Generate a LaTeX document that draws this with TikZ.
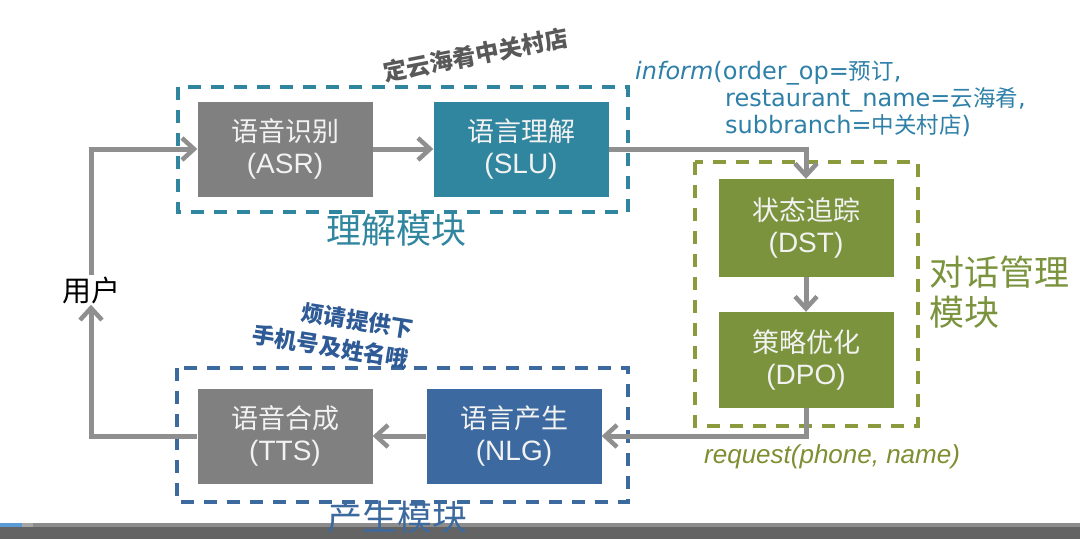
\documentclass[tikz,border=0pt]{standalone}
\usepackage{fontspec}
\setmainfont{Liberation Sans}
\newfontfamily\cjk{Noto Sans CJK SC}
\newfontfamily\infofont{DejaVu Sans}
\usetikzlibrary{arrows.meta}
\definecolor{tealc}{HTML}{31869F}
\definecolor{tealtext}{HTML}{2E80A8}
\definecolor{greyb}{HTML}{808080}
\definecolor{greenc}{HTML}{7A933C}
\definecolor{dmgreen}{HTML}{8A9A3C}
\definecolor{bluec}{HTML}{3C6AA0}
\definecolor{bluedash}{HTML}{3D6A9E}
\definecolor{arrowc}{HTML}{8F8F8F}
\definecolor{boxtext}{HTML}{F2F2F2}
\definecolor{olivetext}{HTML}{7E8F32}
\definecolor{notegray}{HTML}{595959}
\definecolor{noteblue}{HTML}{2E5A96}
\definecolor{barlight}{HTML}{8C8C8C}
\definecolor{barblue}{HTML}{5B9BD5}
\definecolor{barpale}{HTML}{A6A6A6}
\definecolor{bardark}{HTML}{646464}
\begin{document}
\begin{tikzpicture}[x=1pt,y=-1pt,
  box/.style={draw=none, fill=#1, text=boxtext, align=center, minimum width=175pt,
    minimum height=95pt, inner sep=0pt, font=\fontsize{28}{32}\selectfont},
  conn/.style={draw=arrowc, line width=5pt,
    -{Straight Barb[length=12pt,width=22pt,line width=4.5pt]}},
  group/.style={draw=#1, line width=3.5pt, dash pattern=on 13pt off 10pt},
  modlabel/.style={font=\cjk\fontsize{35}{40}\selectfont, text=#1},
  infotext/.style={anchor=west, text=tealtext, font=\infofont\fontsize{24}{26}\selectfont, inner sep=0pt},
  infocjk/.style={},
]
\useasboundingbox (0,0) rectangle (1080,539);
\fill[white] (0,0) rectangle (1080,539);

% module frames
\draw[group=tealc] (178,87) rectangle (628,212);
\draw[group=dmgreen] (695,162) rectangle (918,426);
\draw[group=bluedash] (177,368) rectangle (628,502);

% boxes
\node[box=greyb] (asr) at (285,149) {{\cjk\fontsize{27}{32}\selectfont 语音识别}\\(ASR)};
\node[box=tealc] (slu) at (521,149) {{\cjk\fontsize{27}{32}\selectfont 语言理解}\\(SLU)};
\node[box=greenc, minimum height=98pt] (dst) at (806,228) {{\cjk\fontsize{27}{32}\selectfont 状态追踪}\\(DST)};
\node[box=greenc, minimum height=96pt] (dpo) at (806,360) {{\cjk\fontsize{27}{32}\selectfont 策略优化}\\(DPO)};
\node[box=bluec] (nlg) at (514,436) {{\cjk\fontsize{27}{32}\selectfont 语言产生}\\(NLG)};
\node[box=greyb] (tts) at (285,436) {{\cjk\fontsize{27}{32}\selectfont 语音合成}\\(TTS)};
\node[font=\cjk\fontsize{29}{32}\selectfont, inner sep=1pt] (user) at (91,290) {用户};

% connectors
\draw[conn] (user.north) |- (asr.west);
\draw[conn] (asr) -- (slu);
\draw[conn] (slu.east) -| (dst.north);
\draw[conn] (dst) -- (dpo);
\draw[conn] (dpo.south) |- (nlg.east);
\draw[conn] (nlg) -- (tts);
\draw[conn] (tts.west) -| (user.south);

% labels
\node[modlabel=tealc] (lblund) at (396,230) {理解模块};
\node[modlabel=greenc, anchor=west, align=left] (lbldm) at (926,292) {对话管理\\模块};

\node[font=\cjk\bfseries\fontsize{23.5}{26}\selectfont, text=notegray, rotate=11] (note1) at (476,55) {定云海肴中关村店};
\node[font=\cjk\bfseries\fontsize{22.5}{30}\selectfont, text=noteblue, rotate=-9, align=right] (note2) at (333,332) {烦请提供下\\手机号及姓名哦};

\node[infotext] (inf1) at (635,73) {\textit{inform}(order\_op={\cjk\fontsize{22.5}{26}\selectfont 预订},};
\node[infotext] (inf2) at (725,100) {restaurant\_name={\cjk\fontsize{22.5}{26}\selectfont 云海肴},};
\node[infotext] (inf3) at (725,126) {subbranch={\cjk\fontsize{22.5}{26}\selectfont 中关村店})};
\node[anchor=west, text=olivetext, font=\itshape\fontsize{26}{28}\selectfont, inner sep=0pt] (req) at (704,457) {request(phone, name)};

% bottom bar
\fill[barlight] (0,523) rectangle (1080,527);
\fill[barblue] (0,523) rectangle (22,527);
\fill[barpale] (22,523) rectangle (33,527);
\fill[bardark] (0,527) rectangle (1080,539);

\node[modlabel=bluedash] (lblgen) at (397,517) {产生模块};
\end{tikzpicture}
\end{document}
